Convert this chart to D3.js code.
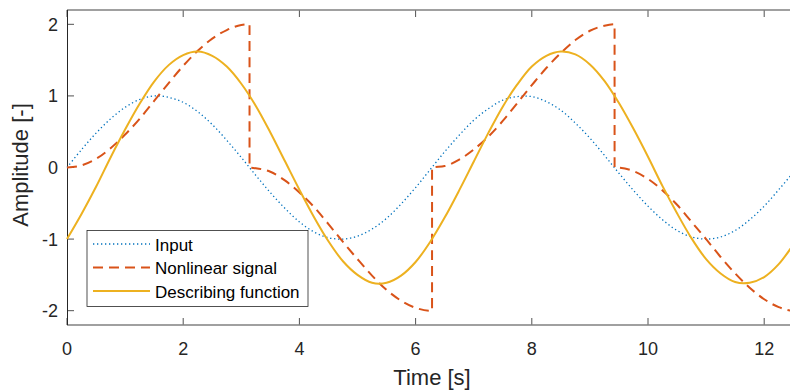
<!DOCTYPE html>
<html>
<head>
<meta charset="utf-8">
<script src="https://cdn.jsdelivr.net/npm/d3@7"></script>
<style>
  body { margin: 0; background: #fff; }
  svg { display: block; font-family: "Liberation Sans", Arial, sans-serif; }
</style>
</head>
<body>
<svg width="790" height="392"></svg>
<script>
// values
const time = [0, 0.25, 0.5, 0.75, 1, 1.25, 1.5, 1.75, 2, 2.25, 2.5, 2.75, 3, 3.25, 3.5, 3.75,
  4, 4.25, 4.5, 4.75, 5, 5.25, 5.5, 5.75, 6, 6.25, 6.5, 6.75, 7, 7.25, 7.5, 7.75, 8, 8.25,
  8.5, 8.75, 9, 9.25, 9.5, 9.75, 10, 10.25, 10.5, 10.75, 11, 11.25, 11.5, 11.75, 12, 12.25,
  12.5, 12.57];
const input = [0, 0.25, 0.48, 0.68, 0.84, 0.95, 1.00, 0.98, 0.91, 0.78, 0.60, 0.38, 0.14, -0.11,
  -0.35, -0.57, -0.76, -0.90, -0.98, -1.00, -0.96, -0.86, -0.71, -0.51, -0.28, -0.03, 0.22, 0.45,
  0.66, 0.82, 0.94, 0.99, 0.99, 0.92, 0.80, 0.62, 0.41, 0.17, -0.08, -0.32, -0.54, -0.73, -0.88,
  -0.97, -1.00, -0.97, -0.88, -0.73, -0.54, -0.31, -0.07, 0];
const describing = [-1.00, -0.65, -0.27, 0.14, 0.53, 0.89, 1.20, 1.43, 1.57, 1.62, 1.56, 1.41,
  1.17, 0.86, 0.49, 0.09, -0.31, -0.69, -1.03, -1.31, -1.50, -1.61, -1.61, -1.51, -1.32, -1.04,
  -0.70, -0.32, 0.08, 0.48, 0.85, 1.16, 1.41, 1.56, 1.62, 1.58, 1.44, 1.21, 0.90, 0.54, 0.15,
  -0.26, -0.64, -0.99, -1.28, -1.48, -1.60, -1.61, -1.53, -1.35, -1.08, -1.00];

// nonlinear signal has jumps, so it keeps its own time stamps
const nlTime = [0, 0.25, 0.5, 0.75, 1, 1.25, 1.5, 1.75, 2, 2.25, 2.5, 2.75, 3, 3.1416, 3.1417,
  3.25, 3.5, 3.75, 4, 4.25, 4.5, 4.75, 5, 5.25, 5.5, 5.75, 6, 6.25, 6.2831, 6.2832, 6.5, 6.75,
  7, 7.25, 7.5, 7.75, 8, 8.25, 8.5, 8.75, 9, 9.25, 9.4247, 9.4248, 9.5, 9.75, 10, 10.25, 10.5,
  10.75, 11, 11.25, 11.5, 11.75, 12, 12.25, 12.5, 12.57];
const nonlinear = [0, 0.03, 0.12, 0.27, 0.46, 0.68, 0.93, 1.18, 1.42, 1.63, 1.80, 1.92, 1.99, 2.00,
  0, -0.01, -0.06, -0.18, -0.35, -0.55, -0.79, -1.04, -1.28, -1.51, -1.71, -1.86, -1.96, -2.00,
  -2.00, 0, 0.02, 0.11, 0.25, 0.43, 0.65, 0.90, 1.15, 1.39, 1.60, 1.78, 1.91, 1.98, 2.00, 0,
  -0.003, -0.05, -0.16, -0.32, -0.52, -0.76, -1.00, -1.25, -1.48, -1.68, -1.84, -1.95, -2.00, -2.00];

const xTicks = [0, 2, 4, 6, 8, 10, 12];
const yTicks = [-2, -1, 0, 1, 2];
const legendLabels = ["Input", "Nonlinear signal", "Describing function"];

const svg = d3.select("svg");
const pLeft = 67, pTop = 10, pBottom = 325;
const x = d3.scaleLinear().domain([0, 4 * Math.PI]).range([pLeft, pLeft + 4 * Math.PI * 58.1]);
const y = d3.scaleLinear().domain([-2.2, 2.2]).range([pBottom, pTop]);
const pRight = x(4 * Math.PI);

const axisCol = "#262626";
const fmt = d => d < 0 ? "-" + Math.abs(d) : String(d);

// ticks (inside, on all four sides)
const g = svg.append("g");
g.selectAll(".xt").data(xTicks).enter().append("line")
  .attr("x1", d => x(d)).attr("x2", d => x(d))
  .attr("y1", pBottom).attr("y2", pBottom - 7)
  .attr("stroke", axisCol).attr("stroke-width", 0.8);
g.selectAll(".xt2").data(xTicks).enter().append("line")
  .attr("x1", d => x(d)).attr("x2", d => x(d))
  .attr("y1", pTop).attr("y2", pTop + 7)
  .attr("stroke", axisCol).attr("stroke-width", 0.8);
g.selectAll(".yt").data(yTicks).enter().append("line")
  .attr("x1", pLeft).attr("x2", pLeft + 7)
  .attr("y1", d => y(d)).attr("y2", d => y(d))
  .attr("stroke", axisCol).attr("stroke-width", 0.8);
g.selectAll(".yt2").data(yTicks).enter().append("line")
  .attr("x1", pRight).attr("x2", pRight - 7)
  .attr("y1", d => y(d)).attr("y2", d => y(d))
  .attr("stroke", axisCol).attr("stroke-width", 0.8);

// box
svg.append("line").attr("x1", pLeft).attr("x2", pRight).attr("y1", pBottom).attr("y2", pBottom)
  .attr("stroke", "#808080").attr("stroke-width", 1.5);
svg.append("line").attr("x1", pLeft).attr("x2", pRight).attr("y1", pTop).attr("y2", pTop)
  .attr("stroke", "#808080").attr("stroke-width", 1.5);
svg.append("line").attr("x1", pLeft + 0.5).attr("x2", pLeft + 0.5).attr("y1", pTop).attr("y2", pBottom)
  .attr("stroke", axisCol).attr("stroke-width", 1);

// tick labels
svg.selectAll(".xl").data(xTicks).enter().append("text")
  .attr("x", d => x(d)).attr("y", 355)
  .attr("text-anchor", "middle").attr("font-size", 18).attr("fill", axisCol)
  .text(fmt);
svg.selectAll(".yl").data(yTicks).enter().append("text")
  .attr("x", 58).attr("y", d => y(d) + 6.5)
  .attr("text-anchor", "end").attr("font-size", 18).attr("fill", axisCol)
  .text(fmt);

// axis titles
svg.append("text").attr("x", (pLeft + pRight) / 2).attr("y", 385)
  .attr("text-anchor", "middle").attr("font-size", 22).attr("fill", axisCol)
  .text("Time [s]");
svg.append("text").attr("transform", "translate(28,165) rotate(-90)")
  .attr("text-anchor", "middle").attr("font-size", 22).attr("fill", axisCol)
  .text("Amplitude [-]");

// series
const styles = [
  { color: "#0072BD", width: 1.3, dash: "1.3,2.7" },
  { color: "#D95319", width: 2, dash: "10,6" },
  { color: "#EDB120", width: 2, dash: null }
];

const smooth = d3.line().x(d => x(d[0])).y(d => y(d[1])).curve(d3.curveCatmullRom.alpha(0.5));
const mono = d3.line().x(d => x(d[0])).y(d => y(d[1])).curve(d3.curveMonotoneX);

const plot = svg.append("g");
plot.append("path").datum(d3.zip(time, input))
  .attr("d", smooth).attr("fill", "none")
  .attr("stroke", styles[0].color).attr("stroke-width", styles[0].width)
  .attr("stroke-dasharray", styles[0].dash);
plot.append("path").datum(d3.zip(nlTime, nonlinear))
  .attr("d", mono).attr("fill", "none")
  .attr("stroke", styles[1].color).attr("stroke-width", styles[1].width)
  .attr("stroke-dasharray", styles[1].dash);
plot.append("path").datum(d3.zip(time, describing))
  .attr("d", smooth).attr("fill", "none")
  .attr("stroke", styles[2].color).attr("stroke-width", styles[2].width);

// legend
const lg = svg.append("g");
lg.append("rect").attr("x", 87).attr("y", 230.5).attr("width", 221).attr("height", 76)
  .attr("fill", "#fff").attr("stroke", axisCol).attr("stroke-width", 0.8);
const item = lg.selectAll(".item").data(legendLabels).enter().append("g")
  .attr("transform", (d, i) => `translate(0,${244 + i * 23.5})`);
item.append("line").attr("x1", 93).attr("x2", 150).attr("y1", 0).attr("y2", 0)
  .attr("stroke", (d, i) => styles[i].color)
  .attr("stroke-width", (d, i) => styles[i].width)
  .attr("stroke-dasharray", (d, i) => styles[i].dash);
item.append("text").attr("x", 155).attr("y", 6.5)
  .attr("font-size", 17).attr("fill", "#000")
  .text(d => d);
</script>
</body>
</html>
